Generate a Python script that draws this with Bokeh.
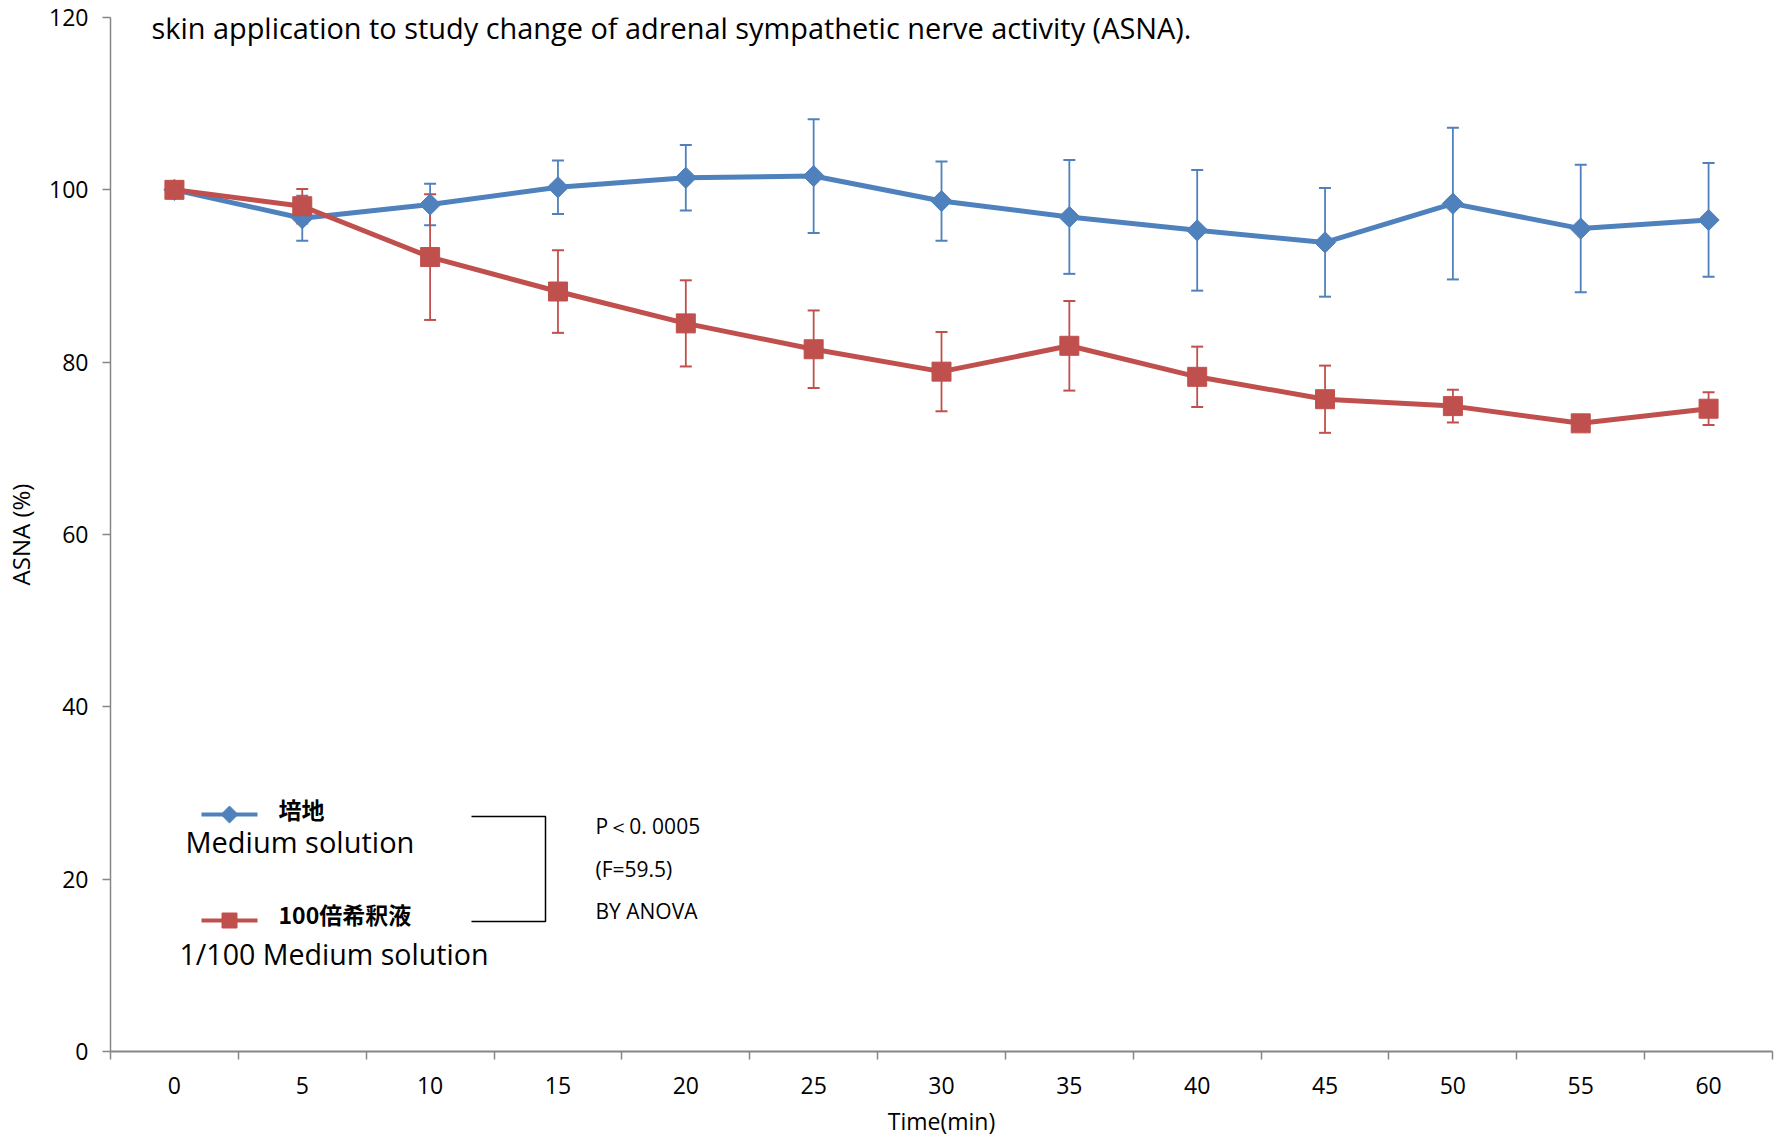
import math
from bokeh.plotting import figure
from bokeh.models import Range1d, FixedTicker, Whisker, TeeHead, ColumnDataSource, Label
from bokeh.embed import file_html
from bokeh.resources import INLINE
from bokeh.core.properties import value

# ---------------- data ----------------
time_min = [0, 5, 10, 15, 20, 25, 30, 35, 40, 45, 50, 55, 60]
y_ticks = [0, 20, 40, 60, 80, 100, 120]
medium_mean = [100, 96.7, 98.3, 100.3, 101.4, 101.6, 98.7, 96.85, 95.3, 93.9, 98.4, 95.5, 96.5]
medium_sd = [0, 2.6, 2.4, 3.1, 3.8, 6.6, 4.6, 6.6, 7.0, 6.3, 8.8, 7.4, 6.6]
dilute_mean = [100, 98.1, 92.2, 88.2, 84.5, 81.5, 78.9, 81.9, 78.3, 75.7, 74.9, 72.9, 74.6]
dilute_sd = [0, 2.0, 7.3, 4.8, 5.0, 4.5, 4.6, 5.2, 3.5, 3.9, 1.9, 0.8, 1.9]

series_names = ["培地", "100倍希釈液"]
series_en = ["Medium solution", "1/100 Medium solution"]
title_text = "skin application to study change of adrenal sympathetic nerve activity (ASNA)."
stats_text = ["P＜0. 0005", "(F=59.5)", "BY ANOVA"]

BLUE = "#4F81BD"
RED = "#C0504D"
AXIS = "#868686"
FONT = "Open Sans"
CJK = "Noto Sans CJK JP"

W, H = 1781, 1139
L, R, T, B = 110, 9, 17, 88
X0, X1 = -2.5, 62.5
Y0, Y1 = 0, 120

p = figure(width=W, height=H, output_backend="svg", toolbar_location=None,
           x_range=Range1d(X0, X1), y_range=Range1d(Y0, Y1),
           min_border_left=L, min_border_right=R, min_border_top=T, min_border_bottom=B)
p.outline_line_color = None
p.xgrid.visible = False
p.ygrid.visible = False
p.background_fill_color = "white"
p.border_fill_color = "white"

# layout helpers: reference pixel -> data coords
fw = W - L - R
fh = H - T - B
def dx(px):
    return X0 + (px - L) / fw * (X1 - X0)
def dy(py):
    return Y0 + (T + fh - py) / fh * (Y1 - Y0)

# axes
xa = p.xaxis[0]
xa.ticker = FixedTicker(ticks=time_min, minor_ticks=[t - 2.5 for t in time_min] + [time_min[-1] + 2.5])
xa.major_tick_out = 0
xa.major_tick_in = 0
xa.minor_tick_out = 8
xa.minor_tick_in = 0
xa.minor_tick_line_color = AXIS
xa.minor_tick_line_width = 1.5
xa.axis_line_color = AXIS
xa.axis_line_width = 2
xa.major_label_standoff = 17
xa.major_label_text_font = FONT
xa.major_label_text_font_size = "23px"
xa.major_label_text_color = "black"
xa.axis_label = "Time(min)"
xa.axis_label_text_font = FONT
xa.axis_label_text_font_size = "23px"
xa.axis_label_text_font_style = "normal"
xa.axis_label_text_color = "black"
xa.axis_label_standoff = 8

ya = p.yaxis[0]
ya.ticker = FixedTicker(ticks=y_ticks, minor_ticks=[])
ya.major_tick_out = 8
ya.major_tick_in = 0
ya.major_tick_line_color = AXIS
ya.major_tick_line_width = 1.5
ya.minor_tick_line_color = None
ya.axis_line_color = AXIS
ya.axis_line_width = 1.5
ya.major_label_standoff = 14
ya.major_label_text_font = FONT
ya.major_label_text_font_size = "23px"
ya.major_label_text_color = "black"
ya.axis_label = "ASNA (%)"
ya.axis_label_text_font = FONT
ya.axis_label_text_font_size = "24px"
ya.axis_label_text_font_style = "normal"
ya.axis_label_text_color = "black"
ya.axis_label_standoff = 9

# series
def add_series(mean, sd, color, marker, size, angle):
    idx = [i for i in range(len(time_min)) if sd[i] > 0]
    src = ColumnDataSource(dict(x=[time_min[i] for i in idx],
                                upper=[mean[i] + sd[i] for i in idx],
                                lower=[mean[i] - sd[i] for i in idx]))
    w = Whisker(source=src, base="x", upper="upper", lower="lower",
                line_color=color, line_width=1.8,
                upper_head=TeeHead(size=12, line_color=color, line_width=2),
                lower_head=TeeHead(size=12, line_color=color, line_width=2))
    p.add_layout(w)
    p.line(time_min, mean, line_color=color, line_width=5)
    p.scatter(time_min, mean, marker=marker, size=size, angle=angle,
              fill_color=color, line_color=color)

add_series(medium_mean, medium_sd, BLUE, "square", 15, math.pi / 4)
add_series(dilute_mean, dilute_sd, RED, "square", 19, 0)

# title inside plot
p.add_layout(Label(x=dx(151), y=dy(27), text=title_text, text_font=FONT,
                   text_font_size="28.9px", text_baseline="middle", text_color="black"))

# custom legend
for color, ms, ang, py in [(BLUE, 12, math.pi / 4, 814), (RED, 15, 0, 920)]:
    p.line([dx(201), dx(257)], [dy(py), dy(py)], line_color=color, line_width=4)
    p.scatter([dx(229)], [dy(py)], marker="square", size=ms, angle=ang,
              fill_color=color, line_color=color)

p.add_layout(Label(x=dx(278), y=dy(808), text=series_names[0], text_font=CJK,
                   text_font_style="bold", text_font_size="23px", text_baseline="middle",
                   text_color="black"))
p.add_layout(Label(x=dx(278), y=dy(913), text=series_names[1], text_font=CJK,
                   text_font_style="bold", text_font_size="23px", text_baseline="middle",
                   text_color="black"))
p.add_layout(Label(x=dx(185), y=dy(841), text=series_en[0], text_font=FONT,
                   text_font_size="29px", text_baseline="middle", text_color="black"))
p.add_layout(Label(x=dx(179), y=dy(953), text=series_en[1], text_font=FONT,
                   text_font_size="28.6px", text_baseline="middle", text_color="black"))

# bracket
p.line([dx(471), dx(545), dx(545), dx(471)], [dy(816), dy(816), dy(921), dy(921)],
       line_color="black", line_width=1.5)

for txt, py in zip(stats_text, [825, 868, 910]):
    p.add_layout(Label(x=dx(595), y=dy(py), text=txt, text_font=FONT,
                       text_font_size="21px", text_baseline="middle", text_color="black"))

open("out.html", "w").write(file_html(p, INLINE))
